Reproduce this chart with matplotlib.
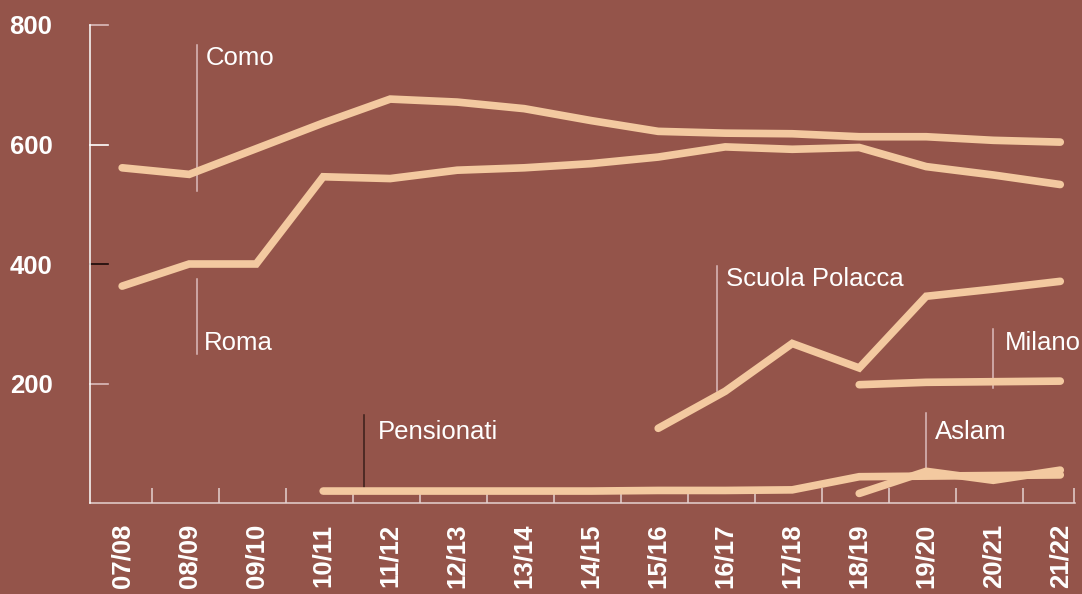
#!/usr/bin/env python3

import numpy as np
import matplotlib.pyplot as plt

BG = '#94544a'
LINE = '#f3c9a0'
FONT = ['Liberation Sans', 'DejaVu Sans']

years = ['07/08', '08/09', '09/10', '10/11', '11/12', '12/13', '13/14', '14/15',
         '15/16', '16/17', '17/18', '18/19', '19/20', '20/21', '21/22']

# each series starts at a given school year index
como = [561, 550, 593, 636, 676, 671, 660, 640, 622, 619, 618, 613, 613, 607, 604]
roma = [363, 400, 400, 546, 543, 557, 561, 568, 579, 596, 592, 595, 563, 549, 533]
polacca = [125, 187, 267, 226, 346, 358, 371]
milano = [198, 202, 203, 204]
aslam = [16, 53, 38, 55]
pensionati = [20, 20, 20, 20, 20, 21, 21, 22, 44, 45, 46, 47]

series = [
	(como, 0),
	(roma, 0),
	(polacca, 8),
	(milano, 11),
	(aslam, 11),
	(pensionati, 3),
]

# label, x of marker line, line bottom, line top, text x, text y, line colour
labels = [
	('Como', 1.12, 523, 766, 1.25, 745, '#dcbcbc'),
	('Roma', 1.12, 250, 375, 1.22, 267, '#dcbcbc'),
	('Scuola Polacca', 8.88, 187, 397, 9.01, 375, '#dcbcbc'),
	('Milano', 13.0, 193, 291, 13.18, 267, '#dcbcbc'),
	('Aslam', 11.99, 52, 150, 12.13, 119, '#dcbcbc'),
	('Pensionati', 3.61, 18, 148, 3.81, 119, '#3a1f1a'),
]

yticks = [200, 400, 600, 800]
ytick_cols = ['#dcbcbc', '#1a0a08', 'white', '#dcbcbc']

fig = plt.figure(figsize=(10.82, 5.94), dpi=100, facecolor=BG)
ax = fig.add_axes([90 / 1082, 1 - 503 / 594, (1075 - 90) / 1082, (503 - 25) / 594])
ax.set_facecolor(BG)

for values, start in series:
	x = np.arange(start, start + len(values))
	ax.plot(x, values, color=LINE, lw=5.5, solid_capstyle='round',
			solid_joinstyle='miter', zorder=3)

for text, lx, y0, y1, tx, ty, col in labels:
	ax.plot([lx, lx], [y0, y1], color=col, lw=1.1, zorder=2)
	ax.text(tx, ty, text, color='white', fontsize=18.5, family=FONT,
			ha='left', va='center')

ax.set_xlim(-0.48, 14.22)
ax.set_ylim(0, 800)

for side in ['top', 'right']:
	ax.spines[side].set_visible(False)
ax.spines['left'].set_color('white')
ax.spines['bottom'].set_color('#e6d2d0')
ax.spines['left'].set_linewidth(1.1)
ax.spines['bottom'].set_linewidth(1.1)
ax.spines['left'].set_zorder(4)

# y axis: tick marks drawn by hand so each can have its own colour
ax.set_yticks(yticks)
ax.set_yticklabels([str(v) for v in yticks])
ax.tick_params(axis='y', length=0, pad=27, labelsize=18.5, labelcolor='white')
ytr = ax.get_yaxis_transform()
for v, col in zip(yticks, ytick_cols):
	ax.plot([0, 0.0183], [v, v], color=col, lw=1.2, transform=ytr,
			clip_on=False, zorder=4)
for lab in ax.get_yticklabels():
	lab.set_fontweight('bold')
	lab.set_family(FONT)

# x axis: labels at the years, tick marks between them
ax.set_xticks(np.arange(len(years)))
ax.set_xticklabels(years, rotation=90)
minor = list(np.arange(len(years) - 1) + 0.45) + [14.2]
ax.set_xticks(minor, minor=True)
ax.tick_params(axis='x', which='major', length=0, pad=15, labelsize=18.5,
			   labelcolor='white')
ax.tick_params(axis='x', which='minor', direction='in', length=11, width=1.1,
			   color='#e6d2d0')
for lab in ax.get_xticklabels():
	lab.set_fontweight('bold')
	lab.set_family(FONT)
	lab.set_va('top')

fig.savefig('out.png', dpi=100, facecolor=BG)
